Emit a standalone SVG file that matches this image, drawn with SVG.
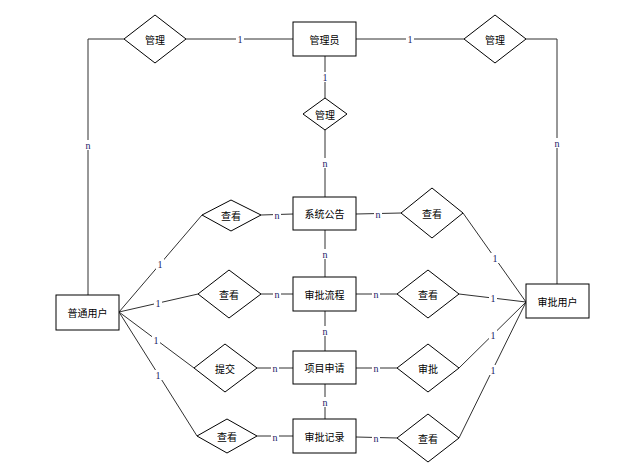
<svg xmlns="http://www.w3.org/2000/svg" width="643" height="464" viewBox="0 0 643 464">
  <style>
    .ent { fill: #ffffff; stroke: #000000; stroke-width: 1; }
    .rel { fill: #ffffff; stroke: #000000; stroke-width: 1; }
    .txt { font-family: "Noto Sans CJK SC", "Noto Sans", sans-serif; font-size: 10px; fill: #000000; text-anchor: middle; dominant-baseline: central; }
    .ln { fill: none; stroke: #303030; stroke-width: 1; }
    .card { font-family: "Liberation Serif", serif; font-size: 10px; fill: #1a1a66; text-anchor: middle; dominant-baseline: central; }
    .cbg { fill: #ffffff; }
  </style>
  <rect width="643" height="464" fill="#ffffff"/>

  <!-- connectors -->
  <g id="connectors">
    <polyline class="ln" points="293,39 186,39"/>
    <polyline class="ln" points="124,39 88,39 88,295"/>
    <polyline class="ln" points="356,39 464,39"/>
    <polyline class="ln" points="526,39 557,39 557,284"/>
    <line class="ln" x1="325" y1="56" x2="325" y2="98"/>
    <line class="ln" x1="325" y1="130" x2="325" y2="197"/>
    <line class="ln" x1="325" y1="230" x2="325" y2="277"/>
    <line class="ln" x1="325" y1="311" x2="325" y2="351"/>
    <line class="ln" x1="325" y1="384" x2="325" y2="419"/>
    <!-- 普通用户 to relations -->
    <line class="ln" x1="119" y1="312" x2="202" y2="215"/>
    <line class="ln" x1="119" y1="312" x2="198" y2="294"/>
    <line class="ln" x1="119" y1="312" x2="194" y2="368"/>
    <line class="ln" x1="119" y1="312" x2="197" y2="436"/>
    <!-- relations to middle entities -->
    <line class="ln" x1="261" y1="215" x2="293" y2="214"/>
    <line class="ln" x1="261" y1="294" x2="293" y2="294"/>
    <line class="ln" x1="257" y1="368" x2="293" y2="368"/>
    <line class="ln" x1="257" y1="436" x2="293" y2="436"/>
    <line class="ln" x1="356" y1="214" x2="401" y2="213"/>
    <line class="ln" x1="356" y1="294" x2="397" y2="294"/>
    <line class="ln" x1="356" y1="368" x2="397" y2="368"/>
    <line class="ln" x1="356" y1="437" x2="397" y2="438"/>
    <!-- relations to 审批用户 -->
    <line class="ln" x1="463" y1="213" x2="526" y2="302"/>
    <line class="ln" x1="459" y1="294" x2="526" y2="302"/>
    <line class="ln" x1="459" y1="368" x2="526" y2="302"/>
    <line class="ln" x1="459" y1="438" x2="526" y2="302"/>

    <!-- cardinality labels -->
    <g>
      <rect class="cbg" x="236" y="34" width="8" height="10"/><text class="card" x="240" y="39">1</text>
      <rect class="cbg" x="84" y="140" width="8" height="10"/><text class="card" x="88" y="145">n</text>
      <rect class="cbg" x="406" y="34" width="8" height="10"/><text class="card" x="410" y="39">1</text>
      <rect class="cbg" x="553" y="138" width="8" height="10"/><text class="card" x="557" y="143">n</text>
      <rect class="cbg" x="321" y="72" width="8" height="10"/><text class="card" x="325" y="77">1</text>
      <rect class="cbg" x="321" y="158" width="8" height="10"/><text class="card" x="325" y="163">n</text>
      <rect class="cbg" x="321" y="249" width="8" height="10"/><text class="card" x="325" y="254">n</text>
      <rect class="cbg" x="321" y="326" width="8" height="10"/><text class="card" x="325" y="331">n</text>
      <rect class="cbg" x="321" y="397" width="8" height="10"/><text class="card" x="325" y="402">n</text>

      <rect class="cbg" x="156" y="259" width="8" height="10"/><text class="card" x="160" y="264">1</text>
      <rect class="cbg" x="154" y="298" width="8" height="10"/><text class="card" x="158" y="303">1</text>
      <rect class="cbg" x="152" y="335" width="8" height="10"/><text class="card" x="156" y="340">1</text>
      <rect class="cbg" x="154" y="370" width="8" height="10"/><text class="card" x="158" y="375">1</text>

      <rect class="cbg" x="273" y="210" width="8" height="10"/><text class="card" x="277" y="215">n</text>
      <rect class="cbg" x="273" y="289" width="8" height="10"/><text class="card" x="277" y="294">n</text>
      <rect class="cbg" x="271" y="363" width="8" height="10"/><text class="card" x="275" y="368">n</text>
      <rect class="cbg" x="271" y="432" width="8" height="10"/><text class="card" x="275" y="437">n</text>

      <rect class="cbg" x="374" y="209" width="8" height="10"/><text class="card" x="378" y="214">n</text>
      <rect class="cbg" x="372" y="289" width="8" height="10"/><text class="card" x="376" y="294">n</text>
      <rect class="cbg" x="372" y="363" width="8" height="10"/><text class="card" x="376" y="368">n</text>
      <rect class="cbg" x="372" y="433" width="8" height="10"/><text class="card" x="376" y="438">n</text>

      <rect class="cbg" x="491" y="253" width="8" height="10"/><text class="card" x="495" y="258">1</text>
      <rect class="cbg" x="489" y="293" width="8" height="10"/><text class="card" x="493" y="298">1</text>
      <rect class="cbg" x="489" y="330" width="8" height="10"/><text class="card" x="493" y="335">1</text>
      <rect class="cbg" x="489" y="365" width="8" height="10"/><text class="card" x="493" y="370">1</text>
    </g>
  </g>

  <!-- entities -->
  <g id="admin"><rect class="ent" x="293" y="22" width="63" height="34"/><text class="txt" x="324.5" y="39">管理员</text></g>
  <g id="notice"><rect class="ent" x="293" y="197" width="63" height="33"/><text class="txt" x="324.5" y="213.5">系统公告</text></g>
  <g id="flow"><rect class="ent" x="293" y="277" width="63" height="34"/><text class="txt" x="324.5" y="294">审批流程</text></g>
  <g id="apply"><rect class="ent" x="293" y="351" width="63" height="33"/><text class="txt" x="324.5" y="367.5">项目申请</text></g>
  <g id="record"><rect class="ent" x="293" y="419" width="63" height="34"/><text class="txt" x="324.5" y="436">审批记录</text></g>
  <g id="user"><rect class="ent" x="56" y="295" width="63" height="35"/><text class="txt" x="87.5" y="312.5">普通用户</text></g>
  <g id="approver"><rect class="ent" x="526" y="284" width="63" height="34"/><text class="txt" x="557.5" y="301">审批用户</text></g>

  <!-- relationships -->
  <g id="manage-left"><polygon class="rel" points="155,15 186,39 155,63 124,39"/><text class="txt" x="155" y="39">管理</text></g>
  <g id="manage-right"><polygon class="rel" points="495,15 526,39 495,63 464,39"/><text class="txt" x="495" y="39">管理</text></g>
  <g id="manage-mid"><polygon class="rel" points="325,98 347,114 325,130 303,114"/><text class="txt" x="325" y="114">管理</text></g>
  <g id="view-notice-l"><polygon class="rel" points="231,200 261,215 231,231 202,215"/><text class="txt" x="231" y="215">查看</text></g>
  <g id="view-flow-l"><polygon class="rel" points="229,270 261,294 229,318 198,294"/><text class="txt" x="229" y="294">查看</text></g>
  <g id="submit"><polygon class="rel" points="225,344 257,368 225,392 194,368"/><text class="txt" x="225" y="368">提交</text></g>
  <g id="view-record-l"><polygon class="rel" points="227,419 257,436 227,453 197,436"/><text class="txt" x="227" y="436">查看</text></g>
  <g id="view-notice-r"><polygon class="rel" points="432,188 463,213 432,238 401,213"/><text class="txt" x="432" y="213">查看</text></g>
  <g id="view-flow-r"><polygon class="rel" points="428,270 459,294 428,318 397,294"/><text class="txt" x="428" y="294">查看</text></g>
  <g id="approve"><polygon class="rel" points="428,344 459,368 428,392 397,368"/><text class="txt" x="428" y="368">审批</text></g>
  <g id="view-record-r"><polygon class="rel" points="428,414 459,438 428,462 397,438"/><text class="txt" x="428" y="438">查看</text></g>
</svg>
